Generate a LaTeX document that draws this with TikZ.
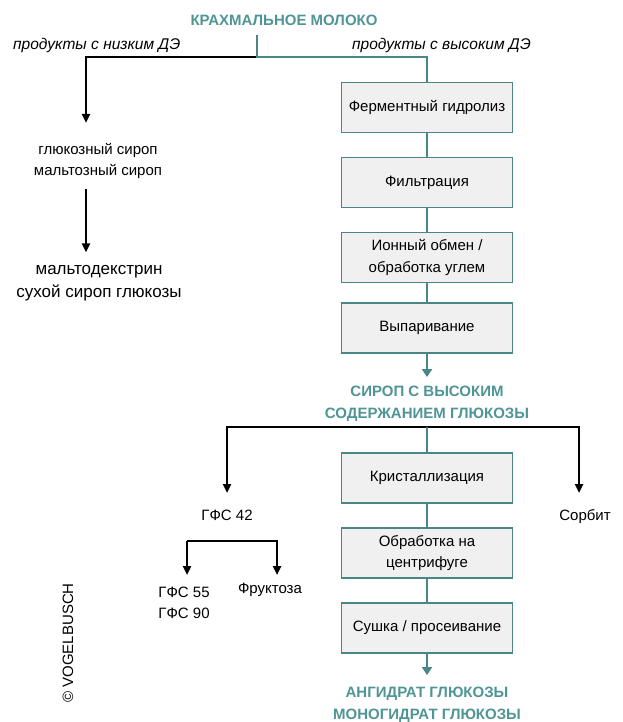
\documentclass[tikz,border=0pt]{standalone}
\usepackage{fontspec}
\setmainfont{Liberation Sans}
\usetikzlibrary{arrows.meta}
\definecolor{flowteal}{HTML}{4A8686}
\definecolor{headteal}{HTML}{4F9595}
\definecolor{boxgray}{HTML}{F0F0F0}

\begin{document}
\begin{tikzpicture}[x=1pt, y=-1pt,
  every node/.style={font=\fontsize{15}{21.5}\selectfont, align=center, inner sep=0pt},
  stepbox/.style={draw=flowteal, fill=boxgray, line width=1.2pt, minimum width=171pt, minimum height=50pt},
  headline/.style={text=headteal, font=\fontsize{15}{22}\selectfont\bfseries},
  branchlabel/.style={font=\fontsize{15.5}{18}\selectfont\itshape},
  mainflow/.style={draw=flowteal, line width=2pt},
  sideflow/.style={draw=black, line width=2.4pt},
  tip/.style={-{Triangle[length=9pt, width=8pt]}},
  tealtip/.style={-{Triangle[length=8pt, width=10pt]}}
]
  \useasboundingbox (0,0) rectangle (623,722);

  % main line
  \node[headline] (milk) at (284,20) {КРАХМАЛЬНОЕ МОЛОКО};
  \node[branchlabel, anchor=west] (lowde) at (13,45) {продукты с низким ДЭ};
  \node[branchlabel, anchor=east] (highde) at (531,45) {продукты с высоким ДЭ};
  \node[stepbox] (hydro) at (427,107.5) {Ферментный гидролиз};
  \node[stepbox] (filter) at (427,182.5) {Фильтрация};
  \node[stepbox] (ionex) at (427,257.5) {Ионный обмен /\\обработка углем};
  \node[stepbox] (evap) at (427,328) {Выпаривание};
  \node[headline] (hgsyrup) at (427,404) {СИРОП С ВЫСОКИМ\\СОДЕРЖАНИЕМ ГЛЮКОЗЫ};
  \node[stepbox] (cryst) at (427,478) {Кристаллизация};
  \node[stepbox] (centri) at (427,553) {Обработка на\\центрифуге};
  \node[stepbox] (dry) at (427,628) {Сушка / просеивание};
  \node[headline] (dextrose) at (427,705) {АНГИДРАТ ГЛЮКОЗЫ\\МОНОГИДРАТ ГЛЮКОЗЫ};

  % side products
  \node (syrups) at (98,161) {глюкозный сироп\\мальтозный сироп};
  \node[font=\fontsize{17}{23}\selectfont] (maltodex) at (99,283.5) {мальтодекстрин\\сухой сироп глюкозы};
  \node (hfs42) at (227,515) {ГФС 42};
  \node (hfs55) at (184,603) {ГФС 55\\ГФС 90};
  \node (fructose) at (270,590) {Фруктоза};
  \node (sorbitol) at (585,517) {Сорбит};
  \node[rotate=90] (copyright) at (68,643) {© VOGELBUSCH};

  \coordinate (milkfoot) at (257,35);
  \coordinate (split) at (257,57);
  \coordinate (lowtip) at (86,123);
  \coordinate (split2) at (427,427);
  \coordinate (hfstip) at (227,493);
  \coordinate (sorbtip) at (579,493);
  \coordinate (forkL) at (187,541);
  \coordinate (forkR) at (277,541);
  \coordinate (hfs55tip) at (187,575);
  \coordinate (fructip) at (277,575);

  \draw[sideflow, tip] (split) -| (lowtip);
  \draw[mainflow] (milkfoot) -- (split) -| (hydro.north);
  \draw[mainflow] (hydro) -- (filter);
  \draw[mainflow] (filter) -- (ionex);
  \draw[mainflow] (ionex) -- (evap);
  \draw[mainflow, tealtip, shorten >=9pt] (evap.south) -- (hgsyrup.north);
  \draw[sideflow, tip, shorten <=10pt, shorten >=13pt] (syrups.south -| lowtip) -- (maltodex.north -| lowtip);

  \draw[sideflow, tip] (split2) -| (hfstip);
  \draw[sideflow, tip] (split2) -| (sorbtip);
  \draw[mainflow] (split2) -- (cryst.north);
  \draw[mainflow] (cryst) -- (centri);
  \draw[mainflow] (centri) -- (dry);
  \draw[mainflow, tealtip, shorten >=12pt] (dry.south) -- (dextrose.north);
  \draw[sideflow, tip] (hfs55tip |- forkL) -- (forkR) -- (fructip);
  \draw[sideflow, tip] (forkL) -- (hfs55tip);
\end{tikzpicture}
\end{document}
